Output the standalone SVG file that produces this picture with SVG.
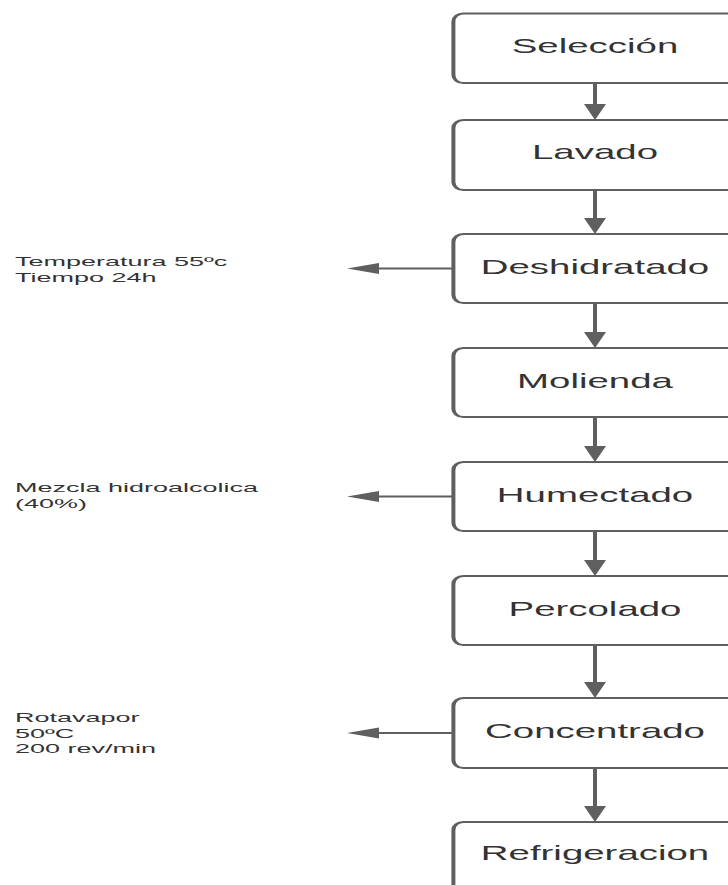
<svg xmlns="http://www.w3.org/2000/svg" width="728" height="885" viewBox="0 0 728 885">
<defs>
<style>
.box{fill:#ffffff;stroke:#5f5f5f;stroke-width:2}
.edge{fill:none;stroke:#5f5f5f;stroke-width:2}
.lbl{font-family:"Liberation Sans",Arial,sans-serif;font-size:19.5px;fill:#333333;text-anchor:middle}
.note{font-family:"Liberation Sans",Arial,sans-serif;font-size:13.5px;fill:#333333}
</style>
<marker id="ah" markerUnits="userSpaceOnUse" markerWidth="16" markerHeight="11" refX="0" refY="5.5" orient="auto" overflow="visible">
<path d="M0,0 L16,5.5 L0,11 z" fill="#5f5f5f"/>
</marker>
</defs>
<rect x="0" y="0" width="728" height="885" fill="#ffffff"/>
<g id="connectors" transform="scale(2,1)">
<line class="edge" x1="297.5" y1="83" x2="297.5" y2="104" marker-end="url(#ah)"/>
<line class="edge" x1="297.5" y1="190" x2="297.5" y2="218" marker-end="url(#ah)"/>
<line class="edge" x1="297.5" y1="303" x2="297.5" y2="332" marker-end="url(#ah)"/>
<line class="edge" x1="297.5" y1="417" x2="297.5" y2="446" marker-end="url(#ah)"/>
<line class="edge" x1="297.5" y1="531" x2="297.5" y2="560" marker-end="url(#ah)"/>
<line class="edge" x1="297.5" y1="645" x2="297.5" y2="682" marker-end="url(#ah)"/>
<line class="edge" x1="297.5" y1="768" x2="297.5" y2="806" marker-end="url(#ah)"/>
<line class="edge" x1="226.7" y1="268.5" x2="189.5" y2="268.5" marker-end="url(#ah)"/>
<line class="edge" x1="226.7" y1="496.5" x2="189.5" y2="496.5" marker-end="url(#ah)"/>
<line class="edge" x1="226.7" y1="733" x2="189.5" y2="733" marker-end="url(#ah)"/>
</g>
<g id="n1"><rect class="box" transform="scale(2,1)" x="226.7" y="13.5" width="160" height="69.5" rx="5" ry="8"/><text class="lbl" transform="translate(595,53) scale(1.97,1)">Selección</text></g>
<g id="n2"><rect class="box" transform="scale(2,1)" x="226.7" y="120" width="160" height="70" rx="5" ry="8"/><text class="lbl" transform="translate(595,159) scale(1.97,1)">Lavado</text></g>
<g id="n3"><rect class="box" transform="scale(2,1)" x="226.7" y="234" width="160" height="69" rx="5" ry="8"/><text class="lbl" transform="translate(595,274) scale(1.97,1)">Deshidratado</text></g>
<g id="n4"><rect class="box" transform="scale(2,1)" x="226.7" y="348" width="160" height="69" rx="5" ry="8"/><text class="lbl" transform="translate(595,388) scale(1.97,1)">Molienda</text></g>
<g id="n5"><rect class="box" transform="scale(2,1)" x="226.7" y="462" width="160" height="69" rx="5" ry="8"/><text class="lbl" transform="translate(595,502) scale(1.97,1)">Humectado</text></g>
<g id="n6"><rect class="box" transform="scale(2,1)" x="226.7" y="576" width="160" height="69" rx="5" ry="8"/><text class="lbl" transform="translate(595,616) scale(1.97,1)">Percolado</text></g>
<g id="n7"><rect class="box" transform="scale(2,1)" x="226.7" y="698" width="160" height="70" rx="5" ry="8"/><text class="lbl" transform="translate(595,738) scale(1.97,1)">Concentrado</text></g>
<g id="n8"><rect class="box" transform="scale(2,1)" x="226.7" y="822" width="160" height="90" rx="5" ry="8"/><text class="lbl" transform="translate(595,860) scale(1.97,1)">Refrigeracion</text></g>
<g id="note1"><text class="note" transform="translate(15,266) scale(2,1)">Temperatura 55ºc</text><text class="note" transform="translate(15,281.5) scale(2,1)">Tiempo 24h</text></g>
<g id="note2"><text class="note" transform="translate(15,492) scale(2,1)">Mezcla hidroalcolica</text><text class="note" transform="translate(15,507.5) scale(2,1)">(40%)</text></g>
<g id="note3"><text class="note" transform="translate(15,722) scale(2,1)">Rotavapor</text><text class="note" transform="translate(15,737.5) scale(2,1)">50ºC</text><text class="note" transform="translate(15,753) scale(2,1)">200 rev/min</text></g>
</svg>
